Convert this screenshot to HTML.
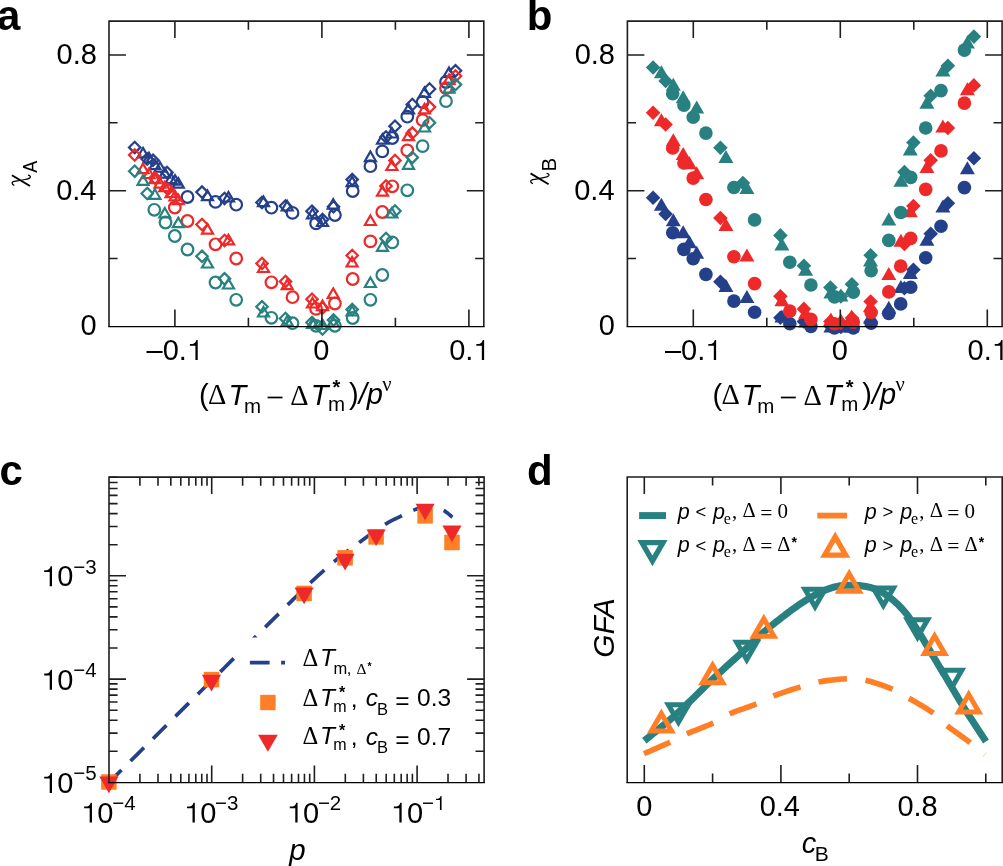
<!DOCTYPE html><html><head><meta charset="utf-8"><style>html,body{margin:0;padding:0;background:#fff;}svg{display:block;will-change:transform;}</style></head><body>
<svg width="1003" height="866" viewBox="0 0 1003 866">
<rect width="1003" height="866" fill="#fff"/>
<path d="M149.00 152.75L154.50 162.28L143.50 162.28Z" fill="none" stroke="#25408a" stroke-width="2.2"/>
<path d="M160.00 162.21L165.50 171.74L154.50 171.74Z" fill="none" stroke="#25408a" stroke-width="2.2"/>
<path d="M175.00 175.11L180.50 184.64L169.50 184.64Z" fill="none" stroke="#25408a" stroke-width="2.2"/>
<path d="M153.0 154.6L158.7 160.3L153.0 166.0L147.3 160.3Z" fill="none" stroke="#25408a" stroke-width="2.2"/>
<path d="M167.0 166.7L172.7 172.4L167.0 178.1L161.3 172.4Z" fill="none" stroke="#25408a" stroke-width="2.2"/>
<path d="M134.7 141.7L140.4 147.4L134.7 153.1L129.0 147.4Z" fill="none" stroke="#25408a" stroke-width="2.2"/>
<path d="M147.2 153.3L152.9 159.0L147.2 164.7L141.5 159.0Z" fill="none" stroke="#25408a" stroke-width="2.2"/>
<path d="M202.0 186.4L207.7 192.1L202.0 197.8L196.3 192.1Z" fill="none" stroke="#25408a" stroke-width="2.2"/>
<path d="M224.5 192.7L230.2 198.4L224.5 204.1L218.8 198.4Z" fill="none" stroke="#25408a" stroke-width="2.2"/>
<path d="M262.0 196.8L267.7 202.5L262.0 208.2L256.3 202.5Z" fill="none" stroke="#25408a" stroke-width="2.2"/>
<path d="M285.5 200.3L291.2 206.0L285.5 211.7L279.8 206.0Z" fill="none" stroke="#25408a" stroke-width="2.2"/>
<path d="M312.0 205.5L317.7 211.2L312.0 216.9L306.3 211.2Z" fill="none" stroke="#25408a" stroke-width="2.2"/>
<path d="M322.5 213.8L328.2 219.5L322.5 225.2L316.8 219.5Z" fill="none" stroke="#25408a" stroke-width="2.2"/>
<path d="M333.5 201.1L339.2 206.8L333.5 212.5L327.8 206.8Z" fill="none" stroke="#25408a" stroke-width="2.2"/>
<path d="M352.2 173.9L357.9 179.6L352.2 185.3L346.5 179.6Z" fill="none" stroke="#25408a" stroke-width="2.2"/>
<path d="M386.0 131.3L391.7 137.0L386.0 142.7L380.3 137.0Z" fill="none" stroke="#25408a" stroke-width="2.2"/>
<path d="M395.0 120.5L400.7 126.2L395.0 131.9L389.3 126.2Z" fill="none" stroke="#25408a" stroke-width="2.2"/>
<path d="M412.3 98.8L418.0 104.5L412.3 110.2L406.6 104.5Z" fill="none" stroke="#25408a" stroke-width="2.2"/>
<path d="M429.5 83.3L435.2 89.0L429.5 94.7L423.8 89.0Z" fill="none" stroke="#25408a" stroke-width="2.2"/>
<path d="M455.5 65.1L461.2 70.8L455.5 76.5L449.8 70.8Z" fill="none" stroke="#25408a" stroke-width="2.2"/>
<path d="M143.00 147.85L148.50 157.38L137.50 157.38Z" fill="none" stroke="#25408a" stroke-width="2.2"/>
<path d="M154.90 159.65L160.40 169.18L149.40 169.18Z" fill="none" stroke="#25408a" stroke-width="2.2"/>
<path d="M164.80 168.15L170.30 177.68L159.30 177.68Z" fill="none" stroke="#25408a" stroke-width="2.2"/>
<path d="M171.00 173.65L176.50 183.18L165.50 183.18Z" fill="none" stroke="#25408a" stroke-width="2.2"/>
<path d="M178.30 178.15L183.80 187.68L172.80 187.68Z" fill="none" stroke="#25408a" stroke-width="2.2"/>
<path d="M207.50 190.55L213.00 200.08L202.00 200.08Z" fill="none" stroke="#25408a" stroke-width="2.2"/>
<path d="M228.50 191.95L234.00 201.48L223.00 201.48Z" fill="none" stroke="#25408a" stroke-width="2.2"/>
<path d="M263.50 196.55L269.00 206.08L258.00 206.08Z" fill="none" stroke="#25408a" stroke-width="2.2"/>
<path d="M287.20 200.95L292.70 210.48L281.70 210.48Z" fill="none" stroke="#25408a" stroke-width="2.2"/>
<path d="M312.50 208.75L318.00 218.28L307.00 218.28Z" fill="none" stroke="#25408a" stroke-width="2.2"/>
<path d="M322.50 216.45L328.00 225.98L317.00 225.98Z" fill="none" stroke="#25408a" stroke-width="2.2"/>
<path d="M333.20 199.15L338.70 208.68L327.70 208.68Z" fill="none" stroke="#25408a" stroke-width="2.2"/>
<path d="M352.10 176.65L357.60 186.18L346.60 186.18Z" fill="none" stroke="#25408a" stroke-width="2.2"/>
<path d="M370.40 151.55L375.90 161.08L364.90 161.08Z" fill="none" stroke="#25408a" stroke-width="2.2"/>
<path d="M382.50 134.15L388.00 143.68L377.00 143.68Z" fill="none" stroke="#25408a" stroke-width="2.2"/>
<path d="M391.90 127.95L397.40 137.48L386.40 137.48Z" fill="none" stroke="#25408a" stroke-width="2.2"/>
<path d="M408.50 103.85L414.00 113.38L403.00 113.38Z" fill="none" stroke="#25408a" stroke-width="2.2"/>
<path d="M424.50 87.35L430.00 96.88L419.00 96.88Z" fill="none" stroke="#25408a" stroke-width="2.2"/>
<path d="M449.00 67.45L454.50 76.98L443.50 76.98Z" fill="none" stroke="#25408a" stroke-width="2.2"/>
<circle cx="187.5" cy="197.0" r="5.8" fill="none" stroke="#25408a" stroke-width="2.2"/>
<circle cx="215.5" cy="201.9" r="5.8" fill="none" stroke="#25408a" stroke-width="2.2"/>
<circle cx="236.2" cy="204.7" r="5.8" fill="none" stroke="#25408a" stroke-width="2.2"/>
<circle cx="271.4" cy="207.7" r="5.8" fill="none" stroke="#25408a" stroke-width="2.2"/>
<circle cx="292.5" cy="212.9" r="5.8" fill="none" stroke="#25408a" stroke-width="2.2"/>
<circle cx="316.1" cy="223.4" r="5.8" fill="none" stroke="#25408a" stroke-width="2.2"/>
<circle cx="334.9" cy="215.0" r="5.8" fill="none" stroke="#25408a" stroke-width="2.2"/>
<circle cx="352.7" cy="191.0" r="5.8" fill="none" stroke="#25408a" stroke-width="2.2"/>
<circle cx="370.4" cy="166.2" r="5.8" fill="none" stroke="#25408a" stroke-width="2.2"/>
<circle cx="382.3" cy="151.4" r="5.8" fill="none" stroke="#25408a" stroke-width="2.2"/>
<circle cx="392.3" cy="138.0" r="5.8" fill="none" stroke="#25408a" stroke-width="2.2"/>
<circle cx="407.3" cy="116.7" r="5.8" fill="none" stroke="#25408a" stroke-width="2.2"/>
<circle cx="422.6" cy="102.0" r="5.8" fill="none" stroke="#25408a" stroke-width="2.2"/>
<circle cx="446.0" cy="82.0" r="5.8" fill="none" stroke="#25408a" stroke-width="2.2"/>
<path d="M149.00 168.55L154.50 178.08L143.50 178.08Z" fill="none" stroke="#ee2929" stroke-width="2.2"/>
<path d="M160.00 178.01L165.50 187.54L154.50 187.54Z" fill="none" stroke="#ee2929" stroke-width="2.2"/>
<path d="M175.00 190.91L180.50 200.44L169.50 200.44Z" fill="none" stroke="#ee2929" stroke-width="2.2"/>
<path d="M155.0 172.4L160.7 178.1L155.0 183.8L149.3 178.1Z" fill="none" stroke="#ee2929" stroke-width="2.2"/>
<path d="M168.0 183.5L173.7 189.2L168.0 194.9L162.3 189.2Z" fill="none" stroke="#ee2929" stroke-width="2.2"/>
<path d="M134.7 149.3L140.4 155.0L134.7 160.7L129.0 155.0Z" fill="none" stroke="#ee2929" stroke-width="2.2"/>
<path d="M202.0 218.8L207.7 224.5L202.0 230.2L196.3 224.5Z" fill="none" stroke="#ee2929" stroke-width="2.2"/>
<path d="M224.5 234.8L230.2 240.5L224.5 246.2L218.8 240.5Z" fill="none" stroke="#ee2929" stroke-width="2.2"/>
<path d="M262.0 257.8L267.7 263.5L262.0 269.2L256.3 263.5Z" fill="none" stroke="#ee2929" stroke-width="2.2"/>
<path d="M285.5 275.7L291.2 281.4L285.5 287.1L279.8 281.4Z" fill="none" stroke="#ee2929" stroke-width="2.2"/>
<path d="M312.0 293.5L317.7 299.2L312.0 304.9L306.3 299.2Z" fill="none" stroke="#ee2929" stroke-width="2.2"/>
<path d="M322.5 302.3L328.2 308.0L322.5 313.7L316.8 308.0Z" fill="none" stroke="#ee2929" stroke-width="2.2"/>
<path d="M352.2 249.8L357.9 255.5L352.2 261.2L346.5 255.5Z" fill="none" stroke="#ee2929" stroke-width="2.2"/>
<path d="M386.0 180.3L391.7 186.0L386.0 191.7L380.3 186.0Z" fill="none" stroke="#ee2929" stroke-width="2.2"/>
<path d="M395.0 154.7L400.7 160.4L395.0 166.1L389.3 160.4Z" fill="none" stroke="#ee2929" stroke-width="2.2"/>
<path d="M412.3 127.4L418.0 133.1L412.3 138.8L406.6 133.1Z" fill="none" stroke="#ee2929" stroke-width="2.2"/>
<path d="M429.5 101.4L435.2 107.1L429.5 112.8L423.8 107.1Z" fill="none" stroke="#ee2929" stroke-width="2.2"/>
<path d="M455.5 70.3L461.2 76.0L455.5 81.7L449.8 76.0Z" fill="none" stroke="#ee2929" stroke-width="2.2"/>
<path d="M143.00 163.65L148.50 173.18L137.50 173.18Z" fill="none" stroke="#ee2929" stroke-width="2.2"/>
<path d="M154.90 173.65L160.40 183.18L149.40 183.18Z" fill="none" stroke="#ee2929" stroke-width="2.2"/>
<path d="M164.80 181.65L170.30 191.18L159.30 191.18Z" fill="none" stroke="#ee2929" stroke-width="2.2"/>
<path d="M171.00 187.65L176.50 197.18L165.50 197.18Z" fill="none" stroke="#ee2929" stroke-width="2.2"/>
<path d="M178.30 194.65L183.80 204.18L172.80 204.18Z" fill="none" stroke="#ee2929" stroke-width="2.2"/>
<path d="M207.50 224.15L213.00 233.68L202.00 233.68Z" fill="none" stroke="#ee2929" stroke-width="2.2"/>
<path d="M228.50 234.75L234.00 244.28L223.00 244.28Z" fill="none" stroke="#ee2929" stroke-width="2.2"/>
<path d="M263.50 262.45L269.00 271.98L258.00 271.98Z" fill="none" stroke="#ee2929" stroke-width="2.2"/>
<path d="M287.20 279.65L292.70 289.18L281.70 289.18Z" fill="none" stroke="#ee2929" stroke-width="2.2"/>
<path d="M312.50 297.95L318.00 307.48L307.00 307.48Z" fill="none" stroke="#ee2929" stroke-width="2.2"/>
<path d="M322.50 300.55L328.00 310.08L317.00 310.08Z" fill="none" stroke="#ee2929" stroke-width="2.2"/>
<path d="M333.20 288.35L338.70 297.88L327.70 297.88Z" fill="none" stroke="#ee2929" stroke-width="2.2"/>
<path d="M352.10 256.95L357.60 266.48L346.60 266.48Z" fill="none" stroke="#ee2929" stroke-width="2.2"/>
<path d="M370.40 215.45L375.90 224.98L364.90 224.98Z" fill="none" stroke="#ee2929" stroke-width="2.2"/>
<path d="M382.50 186.15L388.00 195.68L377.00 195.68Z" fill="none" stroke="#ee2929" stroke-width="2.2"/>
<path d="M391.90 160.45L397.40 169.98L386.40 169.98Z" fill="none" stroke="#ee2929" stroke-width="2.2"/>
<path d="M408.50 130.65L414.00 140.18L403.00 140.18Z" fill="none" stroke="#ee2929" stroke-width="2.2"/>
<path d="M424.50 103.85L430.00 113.38L419.00 113.38Z" fill="none" stroke="#ee2929" stroke-width="2.2"/>
<path d="M449.00 74.35L454.50 83.88L443.50 83.88Z" fill="none" stroke="#ee2929" stroke-width="2.2"/>
<circle cx="174.8" cy="207.5" r="5.8" fill="none" stroke="#ee2929" stroke-width="2.2"/>
<circle cx="187.5" cy="221.0" r="5.8" fill="none" stroke="#ee2929" stroke-width="2.2"/>
<circle cx="215.5" cy="244.3" r="5.8" fill="none" stroke="#ee2929" stroke-width="2.2"/>
<circle cx="236.2" cy="258.5" r="5.8" fill="none" stroke="#ee2929" stroke-width="2.2"/>
<circle cx="271.4" cy="282.3" r="5.8" fill="none" stroke="#ee2929" stroke-width="2.2"/>
<circle cx="292.5" cy="297.2" r="5.8" fill="none" stroke="#ee2929" stroke-width="2.2"/>
<circle cx="316.1" cy="308.9" r="5.8" fill="none" stroke="#ee2929" stroke-width="2.2"/>
<circle cx="334.9" cy="303.5" r="5.8" fill="none" stroke="#ee2929" stroke-width="2.2"/>
<circle cx="352.7" cy="279.0" r="5.8" fill="none" stroke="#ee2929" stroke-width="2.2"/>
<circle cx="370.4" cy="241.4" r="5.8" fill="none" stroke="#ee2929" stroke-width="2.2"/>
<circle cx="382.3" cy="212.0" r="5.8" fill="none" stroke="#ee2929" stroke-width="2.2"/>
<circle cx="392.3" cy="186.3" r="5.8" fill="none" stroke="#ee2929" stroke-width="2.2"/>
<circle cx="407.3" cy="150.4" r="5.8" fill="none" stroke="#ee2929" stroke-width="2.2"/>
<circle cx="422.6" cy="120.1" r="5.8" fill="none" stroke="#ee2929" stroke-width="2.2"/>
<circle cx="446.0" cy="88.1" r="5.8" fill="none" stroke="#ee2929" stroke-width="2.2"/>
<path d="M134.7 165.5L140.4 171.2L134.7 176.9L129.0 171.2Z" fill="none" stroke="#288080" stroke-width="2.2"/>
<path d="M147.2 187.8L152.9 193.5L147.2 199.2L141.5 193.5Z" fill="none" stroke="#288080" stroke-width="2.2"/>
<path d="M202.0 250.6L207.7 256.3L202.0 262.0L196.3 256.3Z" fill="none" stroke="#288080" stroke-width="2.2"/>
<path d="M224.5 273.1L230.2 278.8L224.5 284.5L218.8 278.8Z" fill="none" stroke="#288080" stroke-width="2.2"/>
<path d="M262.0 301.1L267.7 306.8L262.0 312.5L256.3 306.8Z" fill="none" stroke="#288080" stroke-width="2.2"/>
<path d="M285.5 312.8L291.2 318.5L285.5 324.2L279.8 318.5Z" fill="none" stroke="#288080" stroke-width="2.2"/>
<path d="M312.0 316.8L317.7 322.5L312.0 328.2L306.3 322.5Z" fill="none" stroke="#288080" stroke-width="2.2"/>
<path d="M322.5 323.3L328.2 329.0L322.5 334.7L316.8 329.0Z" fill="none" stroke="#288080" stroke-width="2.2"/>
<path d="M333.5 314.4L339.2 320.1L333.5 325.8L327.8 320.1Z" fill="none" stroke="#288080" stroke-width="2.2"/>
<path d="M352.2 303.9L357.9 309.6L352.2 315.3L346.5 309.6Z" fill="none" stroke="#288080" stroke-width="2.2"/>
<path d="M386.0 232.7L391.7 238.4L386.0 244.1L380.3 238.4Z" fill="none" stroke="#288080" stroke-width="2.2"/>
<path d="M395.0 205.3L400.7 211.0L395.0 216.7L389.3 211.0Z" fill="none" stroke="#288080" stroke-width="2.2"/>
<path d="M412.3 151.7L418.0 157.4L412.3 163.1L406.6 157.4Z" fill="none" stroke="#288080" stroke-width="2.2"/>
<path d="M429.5 117.0L435.2 122.7L429.5 128.4L423.8 122.7Z" fill="none" stroke="#288080" stroke-width="2.2"/>
<path d="M455.5 78.9L461.2 84.6L455.5 90.3L449.8 84.6Z" fill="none" stroke="#288080" stroke-width="2.2"/>
<path d="M143.00 175.25L148.50 184.78L137.50 184.78Z" fill="none" stroke="#288080" stroke-width="2.2"/>
<path d="M154.90 189.25L160.40 198.78L149.40 198.78Z" fill="none" stroke="#288080" stroke-width="2.2"/>
<path d="M164.80 207.95L170.30 217.48L159.30 217.48Z" fill="none" stroke="#288080" stroke-width="2.2"/>
<path d="M178.30 217.65L183.80 227.18L172.80 227.18Z" fill="none" stroke="#288080" stroke-width="2.2"/>
<path d="M207.50 257.95L213.00 267.48L202.00 267.48Z" fill="none" stroke="#288080" stroke-width="2.2"/>
<path d="M228.50 278.95L234.00 288.48L223.00 288.48Z" fill="none" stroke="#288080" stroke-width="2.2"/>
<path d="M263.50 306.95L269.00 316.48L258.00 316.48Z" fill="none" stroke="#288080" stroke-width="2.2"/>
<path d="M287.20 315.95L292.70 325.48L281.70 325.48Z" fill="none" stroke="#288080" stroke-width="2.2"/>
<path d="M312.50 318.45L318.00 327.98L307.00 327.98Z" fill="none" stroke="#288080" stroke-width="2.2"/>
<path d="M322.50 319.45L328.00 328.98L317.00 328.98Z" fill="none" stroke="#288080" stroke-width="2.2"/>
<path d="M333.20 316.95L338.70 326.48L327.70 326.48Z" fill="none" stroke="#288080" stroke-width="2.2"/>
<path d="M352.10 305.95L357.60 315.48L346.60 315.48Z" fill="none" stroke="#288080" stroke-width="2.2"/>
<path d="M370.40 277.45L375.90 286.98L364.90 286.98Z" fill="none" stroke="#288080" stroke-width="2.2"/>
<path d="M382.50 241.25L388.00 250.78L377.00 250.78Z" fill="none" stroke="#288080" stroke-width="2.2"/>
<path d="M391.90 207.95L397.40 217.48L386.40 217.48Z" fill="none" stroke="#288080" stroke-width="2.2"/>
<path d="M408.50 159.25L414.00 168.78L403.00 168.78Z" fill="none" stroke="#288080" stroke-width="2.2"/>
<path d="M424.50 121.95L430.00 131.48L419.00 131.48Z" fill="none" stroke="#288080" stroke-width="2.2"/>
<path d="M449.00 83.05L454.50 92.58L443.50 92.58Z" fill="none" stroke="#288080" stroke-width="2.2"/>
<circle cx="154.3" cy="209.8" r="5.8" fill="none" stroke="#288080" stroke-width="2.2"/>
<circle cx="165.5" cy="222.5" r="5.8" fill="none" stroke="#288080" stroke-width="2.2"/>
<circle cx="174.8" cy="236.0" r="5.8" fill="none" stroke="#288080" stroke-width="2.2"/>
<circle cx="187.5" cy="249.5" r="5.8" fill="none" stroke="#288080" stroke-width="2.2"/>
<circle cx="215.5" cy="282.5" r="5.8" fill="none" stroke="#288080" stroke-width="2.2"/>
<circle cx="236.2" cy="299.8" r="5.8" fill="none" stroke="#288080" stroke-width="2.2"/>
<circle cx="271.4" cy="317.8" r="5.8" fill="none" stroke="#288080" stroke-width="2.2"/>
<circle cx="292.5" cy="323.2" r="5.8" fill="none" stroke="#288080" stroke-width="2.2"/>
<circle cx="316.1" cy="325.8" r="5.8" fill="none" stroke="#288080" stroke-width="2.2"/>
<circle cx="334.9" cy="325.8" r="5.8" fill="none" stroke="#288080" stroke-width="2.2"/>
<circle cx="352.7" cy="318.0" r="5.8" fill="none" stroke="#288080" stroke-width="2.2"/>
<circle cx="370.4" cy="299.8" r="5.8" fill="none" stroke="#288080" stroke-width="2.2"/>
<circle cx="382.3" cy="275.0" r="5.8" fill="none" stroke="#288080" stroke-width="2.2"/>
<circle cx="392.3" cy="242.4" r="5.8" fill="none" stroke="#288080" stroke-width="2.2"/>
<circle cx="407.3" cy="190.3" r="5.8" fill="none" stroke="#288080" stroke-width="2.2"/>
<circle cx="422.6" cy="146.1" r="5.8" fill="none" stroke="#288080" stroke-width="2.2"/>
<circle cx="446.0" cy="101.1" r="5.8" fill="none" stroke="#288080" stroke-width="2.2"/>
<path d="M109.0 326.5V21.1H483.8V326.5" fill="none" stroke="#1e1e1e" stroke-width="1.6" stroke-linejoin="miter"/>
<path d="M108.20 326.5H484.60" stroke="#000" stroke-width="1.25"/>
<path d="M174.90 326.4V309.40M174.90 21.1V38.10" stroke="#1e1e1e" stroke-width="1.6"/>
<path d="M321.90 326.4V309.40M321.90 21.1V38.10" stroke="#1e1e1e" stroke-width="1.6"/>
<path d="M468.90 326.4V309.40M468.90 21.1V38.10" stroke="#1e1e1e" stroke-width="1.6"/>
<path d="M248.40 326.4V317.80M248.40 21.1V29.70" stroke="#1e1e1e" stroke-width="1.6"/>
<path d="M395.40 326.4V317.80M395.40 21.1V29.70" stroke="#1e1e1e" stroke-width="1.6"/>
<path d="M109.0 190.68H126.00M483.8 190.68H466.80" stroke="#1e1e1e" stroke-width="1.6"/>
<path d="M109.0 54.96H126.00M483.8 54.96H466.80" stroke="#1e1e1e" stroke-width="1.6"/>
<path d="M109.0 258.54H117.60M483.8 258.54H475.20" stroke="#1e1e1e" stroke-width="1.6"/>
<path d="M109.0 122.82H117.60M483.8 122.82H475.20" stroke="#1e1e1e" stroke-width="1.6"/>
<path d="M653.1 190.4L660.4 197.7L653.1 205.0L645.8 197.7Z" fill="#25408a"/>
<path d="M665.6 206.7L672.9 214.0L665.6 221.3L658.3 214.0Z" fill="#25408a"/>
<path d="M720.4 274.4L727.7 281.7L720.4 289.0L713.1 281.7Z" fill="#25408a"/>
<path d="M780.4 310.5L787.7 317.8L780.4 325.1L773.1 317.8Z" fill="#25408a"/>
<path d="M803.9 314.2L811.2 321.5L803.9 328.8L796.6 321.5Z" fill="#25408a"/>
<path d="M830.4 318.7L837.7 326.0L830.4 333.3L823.1 326.0Z" fill="#25408a"/>
<path d="M840.9 319.7L848.2 327.0L840.9 334.3L833.6 327.0Z" fill="#25408a"/>
<path d="M851.9 319.7L859.2 327.0L851.9 334.3L844.6 327.0Z" fill="#25408a"/>
<path d="M870.6 314.7L877.9 322.0L870.6 329.3L863.3 322.0Z" fill="#25408a"/>
<path d="M904.4 280.9L911.7 288.2L904.4 295.5L897.1 288.2Z" fill="#25408a"/>
<path d="M913.4 262.5L920.7 269.8L913.4 277.1L906.1 269.8Z" fill="#25408a"/>
<path d="M930.7 226.4L938.0 233.7L930.7 241.0L923.4 233.7Z" fill="#25408a"/>
<path d="M947.9 196.0L955.2 203.3L947.9 210.6L940.6 203.3Z" fill="#25408a"/>
<path d="M973.9 150.9L981.2 158.2L973.9 165.5L966.6 158.2Z" fill="#25408a"/>
<path d="M661.40 197.84L668.90 210.83L653.90 210.83Z" fill="#25408a"/>
<path d="M673.30 213.34L680.80 226.33L665.80 226.33Z" fill="#25408a"/>
<path d="M683.20 225.34L690.70 238.33L675.70 238.33Z" fill="#25408a"/>
<path d="M689.40 235.34L696.90 248.33L681.90 248.33Z" fill="#25408a"/>
<path d="M696.70 245.84L704.20 258.83L689.20 258.83Z" fill="#25408a"/>
<path d="M725.90 278.94L733.40 291.93L718.40 291.93Z" fill="#25408a"/>
<path d="M746.90 289.94L754.40 302.93L739.40 302.93Z" fill="#25408a"/>
<path d="M781.90 309.54L789.40 322.53L774.40 322.53Z" fill="#25408a"/>
<path d="M805.60 314.54L813.10 327.53L798.10 327.53Z" fill="#25408a"/>
<path d="M830.90 319.54L838.40 332.53L823.40 332.53Z" fill="#25408a"/>
<path d="M840.90 319.54L848.40 332.53L833.40 332.53Z" fill="#25408a"/>
<path d="M851.60 319.54L859.10 332.53L844.10 332.53Z" fill="#25408a"/>
<path d="M870.50 310.54L878.00 323.53L863.00 323.53Z" fill="#25408a"/>
<path d="M888.80 300.74L896.30 313.73L881.30 313.73Z" fill="#25408a"/>
<path d="M900.90 279.94L908.40 292.93L893.40 292.93Z" fill="#25408a"/>
<path d="M910.30 266.04L917.80 279.03L902.80 279.03Z" fill="#25408a"/>
<path d="M926.90 232.74L934.40 245.73L919.40 245.73Z" fill="#25408a"/>
<path d="M942.90 199.54L950.40 212.53L935.40 212.53Z" fill="#25408a"/>
<path d="M967.40 161.14L974.90 174.13L959.90 174.13Z" fill="#25408a"/>
<circle cx="672.7" cy="232.8" r="6.8" fill="#25408a"/>
<circle cx="683.9" cy="249.4" r="6.8" fill="#25408a"/>
<circle cx="693.2" cy="258.7" r="6.8" fill="#25408a"/>
<circle cx="705.9" cy="274.4" r="6.8" fill="#25408a"/>
<circle cx="733.9" cy="301.1" r="6.8" fill="#25408a"/>
<circle cx="754.6" cy="312.2" r="6.8" fill="#25408a"/>
<circle cx="789.8" cy="323.7" r="6.8" fill="#25408a"/>
<circle cx="810.9" cy="326.5" r="6.8" fill="#25408a"/>
<circle cx="834.5" cy="328.0" r="6.8" fill="#25408a"/>
<circle cx="853.3" cy="328.0" r="6.8" fill="#25408a"/>
<circle cx="871.1" cy="323.2" r="6.8" fill="#25408a"/>
<circle cx="888.8" cy="313.4" r="6.8" fill="#25408a"/>
<circle cx="900.7" cy="303.9" r="6.8" fill="#25408a"/>
<circle cx="910.7" cy="287.3" r="6.8" fill="#25408a"/>
<circle cx="925.7" cy="257.8" r="6.8" fill="#25408a"/>
<circle cx="941.0" cy="226.3" r="6.8" fill="#25408a"/>
<circle cx="964.4" cy="187.6" r="6.8" fill="#25408a"/>
<path d="M653.1 105.5L660.4 112.8L653.1 120.1L645.8 112.8Z" fill="#ee2929"/>
<path d="M665.6 117.2L672.9 124.5L665.6 131.8L658.3 124.5Z" fill="#ee2929"/>
<path d="M720.4 210.7L727.7 218.0L720.4 225.3L713.1 218.0Z" fill="#ee2929"/>
<path d="M780.4 289.0L787.7 296.3L780.4 303.6L773.1 296.3Z" fill="#ee2929"/>
<path d="M803.9 301.6L811.2 308.9L803.9 316.2L796.6 308.9Z" fill="#ee2929"/>
<path d="M830.4 314.2L837.7 321.5L830.4 328.8L823.1 321.5Z" fill="#ee2929"/>
<path d="M840.9 315.7L848.2 323.0L840.9 330.3L833.6 323.0Z" fill="#ee2929"/>
<path d="M851.9 310.7L859.2 318.0L851.9 325.3L844.6 318.0Z" fill="#ee2929"/>
<path d="M870.6 294.2L877.9 301.5L870.6 308.8L863.3 301.5Z" fill="#ee2929"/>
<path d="M904.4 236.6L911.7 243.9L904.4 251.2L897.1 243.9Z" fill="#ee2929"/>
<path d="M913.4 198.7L920.7 206.0L913.4 213.3L906.1 206.0Z" fill="#ee2929"/>
<path d="M930.7 152.9L938.0 160.2L930.7 167.5L923.4 160.2Z" fill="#ee2929"/>
<path d="M947.9 120.7L955.2 128.0L947.9 135.3L940.6 128.0Z" fill="#ee2929"/>
<path d="M973.9 78.1L981.2 85.4L973.9 92.7L966.6 85.4Z" fill="#ee2929"/>
<path d="M661.40 113.34L668.90 126.33L653.90 126.33Z" fill="#ee2929"/>
<path d="M673.30 133.14L680.80 146.13L665.80 146.13Z" fill="#ee2929"/>
<path d="M683.20 147.04L690.70 160.03L675.70 160.03Z" fill="#ee2929"/>
<path d="M689.40 156.34L696.90 169.33L681.90 169.33Z" fill="#ee2929"/>
<path d="M696.70 166.34L704.20 179.33L689.20 179.33Z" fill="#ee2929"/>
<path d="M725.90 217.94L733.40 230.93L718.40 230.93Z" fill="#ee2929"/>
<path d="M746.90 248.44L754.40 261.43L739.40 261.43Z" fill="#ee2929"/>
<path d="M781.90 293.24L789.40 306.23L774.40 306.23Z" fill="#ee2929"/>
<path d="M805.60 305.84L813.10 318.83L798.10 318.83Z" fill="#ee2929"/>
<path d="M830.90 312.54L838.40 325.53L823.40 325.53Z" fill="#ee2929"/>
<path d="M840.90 313.54L848.40 326.53L833.40 326.53Z" fill="#ee2929"/>
<path d="M851.60 309.54L859.10 322.53L844.10 322.53Z" fill="#ee2929"/>
<path d="M870.50 299.04L878.00 312.03L863.00 312.03Z" fill="#ee2929"/>
<path d="M888.80 266.94L896.30 279.93L881.30 279.93Z" fill="#ee2929"/>
<path d="M900.90 233.64L908.40 246.63L893.40 246.63Z" fill="#ee2929"/>
<path d="M910.30 204.14L917.80 217.13L902.80 217.13Z" fill="#ee2929"/>
<path d="M926.90 160.04L934.40 173.03L919.40 173.03Z" fill="#ee2929"/>
<path d="M942.90 119.54L950.40 132.53L935.40 132.53Z" fill="#ee2929"/>
<path d="M967.40 82.14L974.90 95.13L959.90 95.13Z" fill="#ee2929"/>
<circle cx="672.7" cy="148.0" r="6.8" fill="#ee2929"/>
<circle cx="683.9" cy="163.0" r="6.8" fill="#ee2929"/>
<circle cx="693.2" cy="178.1" r="6.8" fill="#ee2929"/>
<circle cx="705.9" cy="199.5" r="6.8" fill="#ee2929"/>
<circle cx="733.9" cy="256.8" r="6.8" fill="#ee2929"/>
<circle cx="754.6" cy="283.6" r="6.8" fill="#ee2929"/>
<circle cx="789.8" cy="311.1" r="6.8" fill="#ee2929"/>
<circle cx="810.9" cy="319.4" r="6.8" fill="#ee2929"/>
<circle cx="834.5" cy="323.7" r="6.8" fill="#ee2929"/>
<circle cx="853.3" cy="322.1" r="6.8" fill="#ee2929"/>
<circle cx="871.1" cy="312.5" r="6.8" fill="#ee2929"/>
<circle cx="888.8" cy="291.9" r="6.8" fill="#ee2929"/>
<circle cx="900.7" cy="266.1" r="6.8" fill="#ee2929"/>
<circle cx="910.7" cy="238.4" r="6.8" fill="#ee2929"/>
<circle cx="925.7" cy="189.4" r="6.8" fill="#ee2929"/>
<circle cx="941.0" cy="150.9" r="6.8" fill="#ee2929"/>
<circle cx="964.4" cy="103.1" r="6.8" fill="#ee2929"/>
<path d="M653.1 60.2L660.4 67.5L653.1 74.8L645.8 67.5Z" fill="#288080"/>
<path d="M665.6 73.6L672.9 80.9L665.6 88.2L658.3 80.9Z" fill="#288080"/>
<path d="M720.4 140.5L727.7 147.8L720.4 155.1L713.1 147.8Z" fill="#288080"/>
<path d="M742.9 175.7L750.2 183.0L742.9 190.3L735.6 183.0Z" fill="#288080"/>
<path d="M780.4 228.1L787.7 235.4L780.4 242.7L773.1 235.4Z" fill="#288080"/>
<path d="M803.9 258.5L811.2 265.8L803.9 273.1L796.6 265.8Z" fill="#288080"/>
<path d="M830.4 280.2L837.7 287.5L830.4 294.8L823.1 287.5Z" fill="#288080"/>
<path d="M840.9 289.2L848.2 296.5L840.9 303.8L833.6 296.5Z" fill="#288080"/>
<path d="M851.9 277.0L859.2 284.3L851.9 291.6L844.6 284.3Z" fill="#288080"/>
<path d="M870.6 247.9L877.9 255.2L870.6 262.5L863.3 255.2Z" fill="#288080"/>
<path d="M904.4 164.7L911.7 172.0L904.4 179.3L897.1 172.0Z" fill="#288080"/>
<path d="M913.4 135.3L920.7 142.6L913.4 149.9L906.1 142.6Z" fill="#288080"/>
<path d="M930.7 88.5L938.0 95.8L930.7 103.1L923.4 95.8Z" fill="#288080"/>
<path d="M947.9 58.4L955.2 65.7L947.9 73.0L940.6 65.7Z" fill="#288080"/>
<path d="M973.9 29.3L981.2 36.6L973.9 43.9L966.6 36.6Z" fill="#288080"/>
<path d="M661.40 65.34L668.90 78.33L653.90 78.33Z" fill="#288080"/>
<path d="M673.30 77.84L680.80 90.83L665.80 90.83Z" fill="#288080"/>
<path d="M683.20 90.34L690.70 103.33L675.70 103.33Z" fill="#288080"/>
<path d="M696.70 100.54L704.20 113.53L689.20 113.53Z" fill="#288080"/>
<path d="M725.90 149.94L733.40 162.93L718.40 162.93Z" fill="#288080"/>
<path d="M746.90 181.04L754.40 194.03L739.40 194.03Z" fill="#288080"/>
<path d="M781.90 237.54L789.40 250.53L774.40 250.53Z" fill="#288080"/>
<path d="M805.60 262.64L813.10 275.63L798.10 275.63Z" fill="#288080"/>
<path d="M830.90 285.54L838.40 298.53L823.40 298.53Z" fill="#288080"/>
<path d="M840.90 288.54L848.40 301.53L833.40 301.53Z" fill="#288080"/>
<path d="M851.60 281.74L859.10 294.73L844.10 294.73Z" fill="#288080"/>
<path d="M870.50 253.54L878.00 266.53L863.00 266.53Z" fill="#288080"/>
<path d="M888.80 212.44L896.30 225.43L881.30 225.43Z" fill="#288080"/>
<path d="M900.90 173.64L908.40 186.63L893.40 186.63Z" fill="#288080"/>
<path d="M910.30 142.44L917.80 155.43L902.80 155.43Z" fill="#288080"/>
<path d="M926.90 95.64L934.40 108.63L919.40 108.63Z" fill="#288080"/>
<path d="M942.90 63.44L950.40 76.43L935.40 76.43Z" fill="#288080"/>
<path d="M967.40 35.44L974.90 48.43L959.90 48.43Z" fill="#288080"/>
<circle cx="672.7" cy="93.8" r="6.8" fill="#288080"/>
<circle cx="683.9" cy="105.1" r="6.8" fill="#288080"/>
<circle cx="693.2" cy="117.2" r="6.8" fill="#288080"/>
<circle cx="705.9" cy="133.1" r="6.8" fill="#288080"/>
<circle cx="733.9" cy="187.5" r="6.8" fill="#288080"/>
<circle cx="754.6" cy="219.9" r="6.8" fill="#288080"/>
<circle cx="789.8" cy="262.3" r="6.8" fill="#288080"/>
<circle cx="810.9" cy="285.0" r="6.8" fill="#288080"/>
<circle cx="834.5" cy="296.9" r="6.8" fill="#288080"/>
<circle cx="853.3" cy="292.3" r="6.8" fill="#288080"/>
<circle cx="871.1" cy="270.7" r="6.8" fill="#288080"/>
<circle cx="888.8" cy="240.4" r="6.8" fill="#288080"/>
<circle cx="900.7" cy="212.5" r="6.8" fill="#288080"/>
<circle cx="910.7" cy="177.4" r="6.8" fill="#288080"/>
<circle cx="925.7" cy="128.0" r="6.8" fill="#288080"/>
<circle cx="941.0" cy="90.6" r="6.8" fill="#288080"/>
<circle cx="964.4" cy="50.1" r="6.8" fill="#288080"/>
<path d="M627.4 326.5V21.1H1002.1V326.5" fill="none" stroke="#1e1e1e" stroke-width="1.6" stroke-linejoin="miter"/>
<path d="M626.60 326.5H1002.90" stroke="#000" stroke-width="1.25"/>
<path d="M693.30 326.4V309.40M693.30 21.1V38.10" stroke="#1e1e1e" stroke-width="1.6"/>
<path d="M840.30 326.4V309.40M840.30 21.1V38.10" stroke="#1e1e1e" stroke-width="1.6"/>
<path d="M987.30 326.4V309.40M987.30 21.1V38.10" stroke="#1e1e1e" stroke-width="1.6"/>
<path d="M766.80 326.4V317.80M766.80 21.1V29.70" stroke="#1e1e1e" stroke-width="1.6"/>
<path d="M913.80 326.4V317.80M913.80 21.1V29.70" stroke="#1e1e1e" stroke-width="1.6"/>
<path d="M627.4 190.68H644.40M1002.1 190.68H985.10" stroke="#1e1e1e" stroke-width="1.6"/>
<path d="M627.4 54.96H644.40M1002.1 54.96H985.10" stroke="#1e1e1e" stroke-width="1.6"/>
<path d="M627.4 258.54H636.00M1002.1 258.54H993.50" stroke="#1e1e1e" stroke-width="1.6"/>
<path d="M627.4 122.82H636.00M1002.1 122.82H993.50" stroke="#1e1e1e" stroke-width="1.6"/>
<text x="56.55" y="63.96" font-family="Liberation Sans" font-size="29" fill="#000">0.8</text>
<text x="56.14" y="199.68" font-family="Liberation Sans" font-size="29" fill="#000">0.4</text>
<text x="80.60" y="335.40" font-family="Liberation Sans" font-size="29" fill="#000">0</text>
<text x="574.65" y="63.96" font-family="Liberation Sans" font-size="29" fill="#000">0.8</text>
<text x="574.24" y="199.68" font-family="Liberation Sans" font-size="29" fill="#000">0.4</text>
<text x="598.70" y="335.40" font-family="Liberation Sans" font-size="29" fill="#000">0</text>
<path transform="translate(186.90 360.00) scale(0.01416 -0.01416)" d="M602 0L764 0L764 1409L672 1409C640 1300 560 1160 420 1137L213 1137L213 1010L602 1010Z" fill="#000"/>
<text x="146.58" y="360.00" font-family="Liberation Sans" font-size="29" fill="#000">–0. </text>
<text x="313.34" y="360.00" font-family="Liberation Sans" font-size="29" fill="#000">0</text>
<path transform="translate(473.32 360.00) scale(0.01416 -0.01416)" d="M602 0L764 0L764 1409L672 1409C640 1300 560 1160 420 1137L213 1137L213 1010L602 1010Z" fill="#000"/>
<text x="449.13" y="360.00" font-family="Liberation Sans" font-size="29" fill="#000">0. </text>
<path transform="translate(705.30 360.00) scale(0.01416 -0.01416)" d="M602 0L764 0L764 1409L672 1409C640 1300 560 1160 420 1137L213 1137L213 1010L602 1010Z" fill="#000"/>
<text x="664.98" y="360.00" font-family="Liberation Sans" font-size="29" fill="#000">–0. </text>
<text x="831.74" y="360.00" font-family="Liberation Sans" font-size="29" fill="#000">0</text>
<path transform="translate(991.72 360.00) scale(0.01416 -0.01416)" d="M602 0L764 0L764 1409L672 1409C640 1300 560 1160 420 1137L213 1137L213 1010L602 1010Z" fill="#000"/>
<text x="967.53" y="360.00" font-family="Liberation Sans" font-size="29" fill="#000">0. </text>
<text x="-3.12" y="30.29" font-family="Liberation Sans" font-size="42" font-weight="bold" fill="#000">a</text>
<text x="526.63" y="30.09" font-family="Liberation Sans" font-size="42" font-weight="bold" fill="#000">b</text>
<g transform="translate(0 0)" fill="none" stroke="#000"><path d="M11.93 175.24L29.99 186.04" stroke-width="1.9"/><path d="M14.3 185.4C12.4 184.7 11.5 183.2 12.6 182.0C13.6 181.0 16.5 181.0 20 180.5L25 179.5C27.5 179.0 29.5 178.6 30.3 177.3C30.8 176.3 29.6 175.3 28.0 175.2" stroke-width="1.25"/></g>
<text x="37.00" y="172.81" font-family="Liberation Sans" font-size="21" fill="#000" transform="rotate(-90 37.00 172.81) translate(37.00 172.81) scale(0.86 1) translate(-37.00 -172.81)">A</text>
<g transform="translate(518.6 -1.8)" fill="none" stroke="#000"><path d="M11.93 175.24L29.99 186.04" stroke-width="1.9"/><path d="M14.3 185.4C12.4 184.7 11.5 183.2 12.6 182.0C13.6 181.0 16.5 181.0 20 180.5L25 179.5C27.5 179.0 29.5 178.6 30.3 177.3C30.8 176.3 29.6 175.3 28.0 175.2" stroke-width="1.25"/></g>
<text x="555.80" y="171.59" font-family="Liberation Sans" font-size="20.5" fill="#000" transform="rotate(-90 555.80 171.59)">B</text>
<text x="199.10" y="404.61" font-family="Liberation Sans" font-size="29" fill="#000">(</text>
<text x="208.11" y="404.40" font-family="Liberation Serif" font-size="28.5" fill="#000">Δ</text>
<text x="228.39" y="404.50" font-family="Liberation Sans" font-size="29" font-style="italic" fill="#000">T</text>
<text x="243.94" y="412.50" font-family="Liberation Sans" font-size="20.5" fill="#000">m</text>
<rect x="267.6" y="396.65" width="14.9" height="1.7" fill="#000"/>
<text x="290.21" y="404.50" font-family="Liberation Serif" font-size="28.5" fill="#000">Δ</text>
<text x="310.69" y="404.60" font-family="Liberation Sans" font-size="29" font-style="italic" fill="#000">T</text>
<text x="332.44" y="394.06" font-family="Liberation Sans" font-size="20" font-weight="bold" fill="#000">*</text>
<text x="328.04" y="410.50" font-family="Liberation Sans" font-size="20.5" fill="#000">m</text>
<text x="348.93" y="403.91" font-family="Liberation Sans" font-size="29" fill="#000">)</text>
<text x="358.74" y="404.22" font-family="Liberation Sans" font-size="29" font-style="italic" fill="#000">/</text>
<text x="366.82" y="404.10" font-family="Liberation Sans" font-size="29" font-style="italic" fill="#000">p</text>
<text x="382.25" y="390.81" font-family="Liberation Serif" font-size="20.5" fill="#000">ν</text>
<text x="712.40" y="404.61" font-family="Liberation Sans" font-size="29" fill="#000">(</text>
<text x="721.41" y="404.40" font-family="Liberation Serif" font-size="28.5" fill="#000">Δ</text>
<text x="741.69" y="404.50" font-family="Liberation Sans" font-size="29" font-style="italic" fill="#000">T</text>
<text x="757.24" y="412.50" font-family="Liberation Sans" font-size="20.5" fill="#000">m</text>
<rect x="780.9" y="396.65" width="14.9" height="1.7" fill="#000"/>
<text x="803.51" y="404.50" font-family="Liberation Serif" font-size="28.5" fill="#000">Δ</text>
<text x="823.99" y="404.60" font-family="Liberation Sans" font-size="29" font-style="italic" fill="#000">T</text>
<text x="845.74" y="394.06" font-family="Liberation Sans" font-size="20" font-weight="bold" fill="#000">*</text>
<text x="841.34" y="410.50" font-family="Liberation Sans" font-size="20.5" fill="#000">m</text>
<text x="862.23" y="403.91" font-family="Liberation Sans" font-size="29" fill="#000">)</text>
<text x="872.04" y="404.22" font-family="Liberation Sans" font-size="29" font-style="italic" fill="#000">/</text>
<text x="880.12" y="404.10" font-family="Liberation Sans" font-size="29" font-style="italic" fill="#000">p</text>
<text x="895.55" y="390.81" font-family="Liberation Serif" font-size="20.5" fill="#000">ν</text>
<path d="M627.2 782.5V477.0H1002.2V782.5" fill="none" stroke="#1e1e1e" stroke-width="1.6" stroke-linejoin="miter"/>
<path d="M626.40 782.5H1003.00" stroke="#000" stroke-width="1.25"/>
<path d="M644.30 782.1V765.10M644.30 477.0V494.00" stroke="#1e1e1e" stroke-width="1.6"/>
<path d="M780.90 782.1V765.10M780.90 477.0V494.00" stroke="#1e1e1e" stroke-width="1.6"/>
<path d="M917.50 782.1V765.10M917.50 477.0V494.00" stroke="#1e1e1e" stroke-width="1.6"/>
<path d="M712.60 782.1V773.50M712.60 477.0V485.60" stroke="#1e1e1e" stroke-width="1.6"/>
<path d="M849.20 782.1V773.50M849.20 477.0V485.60" stroke="#1e1e1e" stroke-width="1.6"/>
<path d="M985.80 782.1V773.50M985.80 477.0V485.60" stroke="#1e1e1e" stroke-width="1.6"/>
<path d="M109.00 782.40 L112.19 779.23 L116.03 775.42 L120.44 771.03 L125.38 766.13 L130.75 760.79 L136.50 755.08 L142.57 749.05 L148.88 742.79 L155.36 736.35 L161.95 729.80 L168.58 723.21 L175.19 716.65 L181.70 710.18 L188.05 703.87 L194.17 697.79 L200.00 692.00 L205.78 686.26 L211.77 680.31 L217.92 674.19 L224.19 667.96 L230.52 661.67 L236.86 655.37 L243.16 649.10 L249.38 642.92 L255.45 636.88 L261.35 631.03 L267.00 625.41 L272.38 620.08 L277.41 615.08 L282.06 610.47 L286.27 606.29 L290.00 602.60 L293.20 599.43 L295.91 596.75 L298.18 594.51 L300.05 592.66 L301.58 591.14 L302.83 589.91 L303.84 588.92 L304.67 588.11 L305.37 587.43 L305.99 586.84 L306.58 586.28 L307.21 585.70 L307.91 585.06 L308.74 584.29 L309.75 583.36 L311.00 582.20 L312.39 580.91 L313.79 579.62 L315.20 578.32 L316.62 577.01 L318.05 575.70 L319.49 574.39 L320.94 573.08 L322.39 571.78 L323.86 570.47 L325.33 569.17 L326.81 567.87 L328.29 566.58 L329.79 565.29 L331.29 564.02 L332.79 562.75 L334.30 561.50 L335.82 560.26 L337.35 559.02 L338.89 557.79 L340.43 556.56 L341.99 555.35 L343.55 554.13 L345.12 552.93 L346.70 551.72 L348.28 550.53 L349.86 549.34 L351.45 548.15 L353.04 546.97 L354.63 545.80 L356.22 544.63 L357.81 543.46 L359.40 542.30 L361.01 541.13 L362.65 539.94 L364.32 538.73 L366.01 537.51 L367.71 536.29 L369.41 535.07 L371.11 533.87 L372.81 532.67 L374.48 531.50 L376.13 530.36 L377.75 529.25 L379.33 528.18 L380.86 527.15 L382.34 526.17 L383.75 525.26 L385.10 524.40 L386.38 523.61 L387.62 522.87 L388.80 522.19 L389.94 521.56 L391.04 520.97 L392.10 520.42 L393.12 519.91 L394.12 519.42 L395.08 518.96 L396.02 518.51 L396.94 518.08 L397.84 517.67 L398.72 517.25 L399.59 516.84 L400.45 516.43 L401.30 516.00 L402.12 515.58 L402.89 515.17 L403.62 514.78 L404.31 514.41 L404.96 514.05 L405.60 513.70 L406.22 513.37 L406.83 513.04 L407.44 512.72 L408.06 512.41 L408.69 512.10 L409.34 511.80 L410.02 511.50 L410.74 511.20 L411.49 510.90 L412.30 510.60 L413.15 510.29 L414.05 509.97 L414.97 509.63 L415.93 509.29 L416.91 508.95 L417.91 508.61 L418.92 508.28 L419.95 507.96 L420.98 507.66 L422.02 507.38 L423.05 507.13 L424.07 506.90 L425.08 506.71 L426.08 506.56 L427.05 506.46 L428.00 506.40 L428.94 506.39 L429.87 506.42 L430.81 506.48 L431.75 506.58 L432.68 506.71 L433.61 506.86 L434.53 507.05 L435.44 507.26 L436.35 507.50 L437.23 507.75 L438.11 508.03 L438.97 508.32 L439.81 508.62 L440.63 508.94 L441.43 509.27 L442.20 509.60 L442.97 509.97 L443.74 510.39 L444.51 510.86 L445.27 511.37 L446.03 511.91 L446.77 512.46 L447.49 513.03 L448.19 513.60 L448.86 514.16 L449.50 514.71 L450.10 515.24 L450.66 515.73 L451.18 516.18 L451.64 516.58 L452.05 516.93 L452.40 517.20" fill="none" stroke="#25408a" stroke-width="3.7" stroke-dasharray="19 12.65" stroke-dashoffset="1.35"/>
<rect x="101.15" y="774.25" width="15.5" height="15.5" fill="#ff7f26"/>
<rect x="203.75" y="671.85" width="15.5" height="15.5" fill="#ff7f26"/>
<rect x="296.35" y="585.65" width="15.5" height="15.5" fill="#ff7f26"/>
<rect x="337.35" y="550.05" width="15.5" height="15.5" fill="#ff7f26"/>
<rect x="368.35" y="529.15" width="15.5" height="15.5" fill="#ff7f26"/>
<rect x="417.35" y="508.15" width="15.5" height="15.5" fill="#ff7f26"/>
<rect x="444.25" y="534.75" width="15.5" height="15.5" fill="#ff7f26"/>
<path d="M108.90 793.19L118.50 776.56L99.30 776.56Z" fill="#ee2929"/>
<path d="M211.50 691.39L221.10 674.76L201.90 674.76Z" fill="#ee2929"/>
<path d="M304.10 604.19L313.70 587.56L294.50 587.56Z" fill="#ee2929"/>
<path d="M345.10 570.39L354.70 553.76L335.50 553.76Z" fill="#ee2929"/>
<path d="M376.10 546.09L385.70 529.46L366.50 529.46Z" fill="#ee2929"/>
<path d="M425.10 520.29L434.70 503.66L415.50 503.66Z" fill="#ee2929"/>
<path d="M452.00 542.19L461.60 525.56L442.40 525.56Z" fill="#ee2929"/>
<rect x="238" y="637.5" width="225" height="125" fill="#fff"/>
<path d="M249.9 662.6H285" stroke="#25408a" stroke-width="3.7" stroke-dasharray="19.7 11.5"/>
<rect x="260.20" y="694.80" width="15.4" height="15.4" fill="#ff7f26"/>
<path d="M267.90 751.87L277.75 734.81L258.05 734.81Z" fill="#ee2929"/>
<text x="302.47" y="665.50" font-family="Liberation Serif" font-size="24.5" fill="#000">Δ</text>
<text x="320.10" y="665.50" font-family="Liberation Sans" font-size="24.5" font-style="italic" fill="#000">T</text>
<text x="333.40" y="674.00" font-family="Liberation Sans" font-size="16.5" fill="#000">m</text>
<text x="346.72" y="674.19" font-family="Liberation Sans" font-size="16.5" fill="#000">,</text>
<text x="356.51" y="674.20" font-family="Liberation Serif" font-size="15.5" fill="#000">Δ</text>
<text x="367.47" y="670.02" font-family="Liberation Sans" font-size="10.5" font-weight="bold" fill="#000">*</text>
<text x="302.47" y="706.00" font-family="Liberation Serif" font-size="24.5" fill="#000">Δ</text>
<text x="320.10" y="706.00" font-family="Liberation Sans" font-size="24.5" font-style="italic" fill="#000">T</text>
<text x="338.95" y="697.81" font-family="Liberation Sans" font-size="16" font-weight="bold" fill="#000">*</text>
<text x="333.14" y="711.60" font-family="Liberation Sans" font-size="16" fill="#000">m</text>
<text x="350.70" y="706.50" font-family="Liberation Sans" font-size="24.5" fill="#000">,</text>
<text x="365.80" y="706.46" font-family="Liberation Sans" font-size="24.5" font-style="italic" fill="#000">c</text>
<text x="377.05" y="714.50" font-family="Liberation Sans" font-size="16.5" fill="#000">B</text>
<text x="395.30" y="709.11" font-family="Liberation Sans" font-size="24.5" fill="#000">=</text>
<text x="417.04" y="706.26" font-family="Liberation Sans" font-size="24.5" fill="#000">0.3</text>
<text x="302.47" y="744.40" font-family="Liberation Serif" font-size="24.5" fill="#000">Δ</text>
<text x="320.10" y="744.40" font-family="Liberation Sans" font-size="24.5" font-style="italic" fill="#000">T</text>
<text x="338.95" y="736.21" font-family="Liberation Sans" font-size="16" font-weight="bold" fill="#000">*</text>
<text x="333.14" y="750.00" font-family="Liberation Sans" font-size="16" fill="#000">m</text>
<text x="350.70" y="744.90" font-family="Liberation Sans" font-size="24.5" fill="#000">,</text>
<text x="365.80" y="744.86" font-family="Liberation Sans" font-size="24.5" font-style="italic" fill="#000">c</text>
<text x="377.05" y="752.90" font-family="Liberation Sans" font-size="16.5" fill="#000">B</text>
<text x="395.30" y="747.51" font-family="Liberation Sans" font-size="24.5" fill="#000">=</text>
<text x="417.04" y="744.66" font-family="Liberation Sans" font-size="24.5" fill="#000">0.7</text>
<path d="M109.0 782.5V477.1H484.1V782.5" fill="none" stroke="#1e1e1e" stroke-width="1.6" stroke-linejoin="miter"/>
<path d="M108.20 782.5H484.90" stroke="#000" stroke-width="1.25"/>
<path d="M139.92 782.4V773.80M139.92 477.1V485.70" stroke="#1e1e1e" stroke-width="1.6"/>
<path d="M158.00 782.4V773.80M158.00 477.1V485.70" stroke="#1e1e1e" stroke-width="1.6"/>
<path d="M170.83 782.4V773.80M170.83 477.1V485.70" stroke="#1e1e1e" stroke-width="1.6"/>
<path d="M180.78 782.4V773.80M180.78 477.1V485.70" stroke="#1e1e1e" stroke-width="1.6"/>
<path d="M188.92 782.4V773.80M188.92 477.1V485.70" stroke="#1e1e1e" stroke-width="1.6"/>
<path d="M195.79 782.4V773.80M195.79 477.1V485.70" stroke="#1e1e1e" stroke-width="1.6"/>
<path d="M201.75 782.4V773.80M201.75 477.1V485.70" stroke="#1e1e1e" stroke-width="1.6"/>
<path d="M207.00 782.4V773.80M207.00 477.1V485.70" stroke="#1e1e1e" stroke-width="1.6"/>
<path d="M211.70 782.4V765.40M211.70 477.1V494.10" stroke="#1e1e1e" stroke-width="1.6"/>
<path d="M242.62 782.4V773.80M242.62 477.1V485.70" stroke="#1e1e1e" stroke-width="1.6"/>
<path d="M260.70 782.4V773.80M260.70 477.1V485.70" stroke="#1e1e1e" stroke-width="1.6"/>
<path d="M273.53 782.4V773.80M273.53 477.1V485.70" stroke="#1e1e1e" stroke-width="1.6"/>
<path d="M283.48 782.4V773.80M283.48 477.1V485.70" stroke="#1e1e1e" stroke-width="1.6"/>
<path d="M291.62 782.4V773.80M291.62 477.1V485.70" stroke="#1e1e1e" stroke-width="1.6"/>
<path d="M298.49 782.4V773.80M298.49 477.1V485.70" stroke="#1e1e1e" stroke-width="1.6"/>
<path d="M304.45 782.4V773.80M304.45 477.1V485.70" stroke="#1e1e1e" stroke-width="1.6"/>
<path d="M309.70 782.4V773.80M309.70 477.1V485.70" stroke="#1e1e1e" stroke-width="1.6"/>
<path d="M314.40 782.4V765.40M314.40 477.1V494.10" stroke="#1e1e1e" stroke-width="1.6"/>
<path d="M345.32 782.4V773.80M345.32 477.1V485.70" stroke="#1e1e1e" stroke-width="1.6"/>
<path d="M363.40 782.4V773.80M363.40 477.1V485.70" stroke="#1e1e1e" stroke-width="1.6"/>
<path d="M376.23 782.4V773.80M376.23 477.1V485.70" stroke="#1e1e1e" stroke-width="1.6"/>
<path d="M386.18 782.4V773.80M386.18 477.1V485.70" stroke="#1e1e1e" stroke-width="1.6"/>
<path d="M394.32 782.4V773.80M394.32 477.1V485.70" stroke="#1e1e1e" stroke-width="1.6"/>
<path d="M401.19 782.4V773.80M401.19 477.1V485.70" stroke="#1e1e1e" stroke-width="1.6"/>
<path d="M407.15 782.4V773.80M407.15 477.1V485.70" stroke="#1e1e1e" stroke-width="1.6"/>
<path d="M412.40 782.4V773.80M412.40 477.1V485.70" stroke="#1e1e1e" stroke-width="1.6"/>
<path d="M417.10 782.4V765.40M417.10 477.1V494.10" stroke="#1e1e1e" stroke-width="1.6"/>
<path d="M448.02 782.4V773.80M448.02 477.1V485.70" stroke="#1e1e1e" stroke-width="1.6"/>
<path d="M466.10 782.4V773.80M466.10 477.1V485.70" stroke="#1e1e1e" stroke-width="1.6"/>
<path d="M478.93 782.4V773.80M478.93 477.1V485.70" stroke="#1e1e1e" stroke-width="1.6"/>
<path d="M109.0 751.30H117.60M484.1 751.30H475.50" stroke="#1e1e1e" stroke-width="1.6"/>
<path d="M109.0 733.11H117.60M484.1 733.11H475.50" stroke="#1e1e1e" stroke-width="1.6"/>
<path d="M109.0 720.21H117.60M484.1 720.21H475.50" stroke="#1e1e1e" stroke-width="1.6"/>
<path d="M109.0 710.20H117.60M484.1 710.20H475.50" stroke="#1e1e1e" stroke-width="1.6"/>
<path d="M109.0 702.02H117.60M484.1 702.02H475.50" stroke="#1e1e1e" stroke-width="1.6"/>
<path d="M109.0 695.10H117.60M484.1 695.10H475.50" stroke="#1e1e1e" stroke-width="1.6"/>
<path d="M109.0 689.11H117.60M484.1 689.11H475.50" stroke="#1e1e1e" stroke-width="1.6"/>
<path d="M109.0 683.83H117.60M484.1 683.83H475.50" stroke="#1e1e1e" stroke-width="1.6"/>
<path d="M109.0 679.10H126.00M484.1 679.10H467.10" stroke="#1e1e1e" stroke-width="1.6"/>
<path d="M109.0 648.00H117.60M484.1 648.00H475.50" stroke="#1e1e1e" stroke-width="1.6"/>
<path d="M109.0 629.81H117.60M484.1 629.81H475.50" stroke="#1e1e1e" stroke-width="1.6"/>
<path d="M109.0 616.91H117.60M484.1 616.91H475.50" stroke="#1e1e1e" stroke-width="1.6"/>
<path d="M109.0 606.90H117.60M484.1 606.90H475.50" stroke="#1e1e1e" stroke-width="1.6"/>
<path d="M109.0 598.72H117.60M484.1 598.72H475.50" stroke="#1e1e1e" stroke-width="1.6"/>
<path d="M109.0 591.80H117.60M484.1 591.80H475.50" stroke="#1e1e1e" stroke-width="1.6"/>
<path d="M109.0 585.81H117.60M484.1 585.81H475.50" stroke="#1e1e1e" stroke-width="1.6"/>
<path d="M109.0 580.53H117.60M484.1 580.53H475.50" stroke="#1e1e1e" stroke-width="1.6"/>
<path d="M109.0 575.80H126.00M484.1 575.80H467.10" stroke="#1e1e1e" stroke-width="1.6"/>
<path d="M109.0 544.70H117.60M484.1 544.70H475.50" stroke="#1e1e1e" stroke-width="1.6"/>
<path d="M109.0 526.51H117.60M484.1 526.51H475.50" stroke="#1e1e1e" stroke-width="1.6"/>
<path d="M109.0 513.61H117.60M484.1 513.61H475.50" stroke="#1e1e1e" stroke-width="1.6"/>
<path d="M109.0 503.60H117.60M484.1 503.60H475.50" stroke="#1e1e1e" stroke-width="1.6"/>
<path d="M109.0 495.42H117.60M484.1 495.42H475.50" stroke="#1e1e1e" stroke-width="1.6"/>
<path d="M109.0 488.50H117.60M484.1 488.50H475.50" stroke="#1e1e1e" stroke-width="1.6"/>
<path d="M109.0 482.51H117.60M484.1 482.51H475.50" stroke="#1e1e1e" stroke-width="1.6"/>
<path d="M109.0 477.23H117.60M484.1 477.23H475.50" stroke="#1e1e1e" stroke-width="1.6"/>
<text x="-0.44" y="484.99" font-family="Liberation Sans" font-size="42" font-weight="bold" fill="#000">c</text>
<path transform="translate(41.18 586.28) scale(0.01416 -0.01416)" d="M602 0L764 0L764 1409L672 1409C640 1300 560 1160 420 1137L213 1137L213 1010L602 1010Z" fill="#000"/>
<text x="41.18" y="586.28" font-family="Liberation Sans" font-size="29" fill="#000"> 0</text>
<text x="73.29" y="573.60" font-family="Liberation Sans" font-size="20.5" fill="#000">−3</text>
<path transform="translate(41.18 689.68) scale(0.01416 -0.01416)" d="M602 0L764 0L764 1409L672 1409C640 1300 560 1160 420 1137L213 1137L213 1010L602 1010Z" fill="#000"/>
<text x="41.18" y="689.68" font-family="Liberation Sans" font-size="29" fill="#000"> 0</text>
<text x="73.29" y="677.20" font-family="Liberation Sans" font-size="20.5" fill="#000">−4</text>
<path transform="translate(41.18 792.88) scale(0.01416 -0.01416)" d="M602 0L764 0L764 1409L672 1409C640 1300 560 1160 420 1137L213 1137L213 1010L602 1010Z" fill="#000"/>
<text x="41.18" y="792.88" font-family="Liberation Sans" font-size="29" fill="#000"> 0</text>
<text x="73.29" y="780.20" font-family="Liberation Sans" font-size="20.5" fill="#000">−5</text>
<path transform="translate(81.15 822.62) scale(0.01416 -0.01416)" d="M602 0L764 0L764 1409L672 1409C640 1300 560 1160 420 1137L213 1137L213 1010L602 1010Z" fill="#000"/>
<text x="81.15" y="822.62" font-family="Liberation Sans" font-size="29" fill="#000"> 0</text>
<text x="112.26" y="810.10" font-family="Liberation Sans" font-size="20.5" fill="#000">−4</text>
<path transform="translate(184.00 822.62) scale(0.01416 -0.01416)" d="M602 0L764 0L764 1409L672 1409C640 1300 560 1160 420 1137L213 1137L213 1010L602 1010Z" fill="#000"/>
<text x="184.00" y="822.62" font-family="Liberation Sans" font-size="29" fill="#000"> 0</text>
<text x="215.11" y="809.90" font-family="Liberation Sans" font-size="20.5" fill="#000">−3</text>
<path transform="translate(286.76 822.62) scale(0.01416 -0.01416)" d="M602 0L764 0L764 1409L672 1409C640 1300 560 1160 420 1137L213 1137L213 1010L602 1010Z" fill="#000"/>
<text x="286.76" y="822.62" font-family="Liberation Sans" font-size="29" fill="#000"> 0</text>
<text x="317.88" y="810.10" font-family="Liberation Sans" font-size="20.5" fill="#000">−2</text>
<path transform="translate(390.83 822.62) scale(0.01416 -0.01416)" d="M602 0L764 0L764 1409L672 1409C640 1300 560 1160 420 1137L213 1137L213 1010L602 1010Z" fill="#000"/>
<text x="390.83" y="822.62" font-family="Liberation Sans" font-size="29" fill="#000"> 0</text>
<path transform="translate(433.91 810.10) scale(0.01001 -0.01001)" d="M602 0L764 0L764 1409L672 1409C640 1300 560 1160 420 1137L213 1137L213 1010L602 1010Z" fill="#000"/>
<text x="421.94" y="810.10" font-family="Liberation Sans" font-size="20.5" fill="#000">− </text>
<text x="289.23" y="860.47" font-family="Liberation Sans" font-size="29.5" font-style="italic" fill="#000">p</text>
<path d="M644.30 740.80 L645.84 739.53 L647.76 737.97 L650.00 736.16 L652.51 734.14 L655.25 731.92 L658.16 729.56 L661.20 727.07 L664.31 724.50 L667.44 721.87 L670.55 719.22 L673.59 716.59 L676.50 714.00 L679.37 711.38 L682.30 708.63 L685.29 705.79 L688.31 702.87 L691.36 699.90 L694.42 696.90 L697.48 693.89 L700.52 690.89 L703.54 687.93 L706.52 685.03 L709.44 682.21 L712.30 679.50 L715.13 676.85 L717.98 674.20 L720.83 671.58 L723.67 668.98 L726.48 666.42 L729.24 663.91 L731.96 661.45 L734.60 659.05 L737.16 656.73 L739.62 654.49 L741.97 652.35 L744.20 650.30 L746.24 648.40 L748.09 646.65 L749.77 645.03 L751.33 643.51 L752.80 642.07 L754.23 640.67 L755.66 639.29 L757.12 637.90 L758.65 636.47 L760.30 634.98 L762.11 633.40 L764.10 631.70 L766.30 629.86 L768.69 627.90 L771.22 625.85 L773.85 623.73 L776.56 621.58 L779.31 619.42 L782.07 617.28 L784.79 615.18 L787.45 613.15 L790.01 611.23 L792.44 609.44 L794.70 607.80 L796.81 606.30 L798.82 604.90 L800.74 603.59 L802.59 602.37 L804.38 601.21 L806.11 600.12 L807.79 599.09 L809.45 598.11 L811.09 597.17 L812.72 596.26 L814.35 595.37 L816.00 594.50 L817.64 593.65 L819.24 592.85 L820.82 592.08 L822.37 591.36 L823.90 590.68 L825.42 590.03 L826.93 589.43 L828.43 588.86 L829.93 588.34 L831.44 587.85 L832.96 587.41 L834.50 587.00 L836.05 586.64 L837.59 586.32 L839.14 586.04 L840.69 585.81 L842.24 585.62 L843.79 585.46 L845.34 585.34 L846.90 585.26 L848.45 585.20 L850.00 585.17 L851.55 585.17 L853.10 585.20 L854.66 585.25 L856.23 585.33 L857.81 585.43 L859.40 585.57 L860.98 585.74 L862.56 585.94 L864.13 586.17 L865.69 586.44 L867.23 586.75 L868.75 587.09 L870.24 587.48 L871.70 587.90 L873.12 588.36 L874.52 588.85 L875.89 589.37 L877.23 589.93 L878.56 590.52 L879.87 591.16 L881.17 591.83 L882.47 592.55 L883.77 593.31 L885.07 594.12 L886.38 594.99 L887.70 595.90 L889.04 596.87 L890.39 597.91 L891.74 598.99 L893.10 600.13 L894.46 601.31 L895.82 602.54 L897.16 603.80 L898.50 605.09 L899.81 606.41 L901.10 607.76 L902.37 609.12 L903.60 610.50 L904.79 611.88 L905.94 613.28 L907.05 614.68 L908.13 616.11 L909.19 617.57 L910.25 619.06 L911.31 620.59 L912.37 622.17 L913.45 623.80 L914.56 625.50 L915.71 627.26 L916.90 629.10 L918.13 631.03 L919.40 633.06 L920.69 635.17 L922.00 637.34 L923.34 639.58 L924.68 641.85 L926.04 644.15 L927.40 646.47 L928.76 648.78 L930.11 651.09 L931.46 653.36 L932.80 655.60 L934.13 657.81 L935.46 660.03 L936.80 662.24 L938.13 664.46 L939.46 666.68 L940.80 668.89 L942.14 671.11 L943.47 673.33 L944.80 675.55 L946.14 677.77 L947.47 679.98 L948.80 682.20 L950.11 684.40 L951.39 686.56 L952.66 688.71 L953.91 690.84 L955.16 692.97 L956.42 695.12 L957.70 697.28 L959.00 699.48 L960.35 701.72 L961.74 704.01 L963.19 706.37 L964.70 708.80 L966.35 711.42 L968.18 714.28 L970.14 717.31 L972.19 720.46 L974.27 723.65 L976.34 726.81 L978.36 729.88 L980.28 732.80 L982.05 735.48 L983.62 737.87 L984.95 739.90 L986.00 741.50" fill="none" stroke="#288080" stroke-width="7"/>
<path d="M644.00 753.70 L644.96 753.28 L646.15 752.76 L647.54 752.15 L649.09 751.47 L650.79 750.73 L652.60 749.94 L654.50 749.11 L656.46 748.25 L658.44 747.38 L660.44 746.50 L662.40 745.63 L664.32 744.78 L666.15 743.96 L667.88 743.18 L669.47 742.46 L670.90 741.80 L672.18 741.20 L673.34 740.63 L674.40 740.10 L675.39 739.60 L676.31 739.11 L677.18 738.65 L678.02 738.19 L678.84 737.74 L679.67 737.30 L680.51 736.85 L681.38 736.39 L682.30 735.92 L683.29 735.43 L684.36 734.92 L685.52 734.38 L686.80 733.80 L688.20 733.19 L689.72 732.55 L691.33 731.89 L693.03 731.21 L694.79 730.52 L696.60 729.81 L698.44 729.09 L700.30 728.36 L702.16 727.64 L704.00 726.91 L705.81 726.19 L707.57 725.48 L709.27 724.78 L710.88 724.10 L712.40 723.44 L713.80 722.80 L715.08 722.18 L716.24 721.59 L717.31 721.00 L718.30 720.43 L719.22 719.87 L720.09 719.32 L720.93 718.77 L721.76 718.23 L722.58 717.69 L723.42 717.15 L724.29 716.61 L725.21 716.07 L726.20 715.51 L727.26 714.95 L728.42 714.38 L729.70 713.80 L731.10 713.20 L732.60 712.59 L734.20 711.97 L735.88 711.34 L737.63 710.71 L739.42 710.07 L741.24 709.43 L743.08 708.79 L744.92 708.15 L746.75 707.51 L748.56 706.88 L750.31 706.26 L752.01 705.65 L753.64 705.05 L755.17 704.47 L756.60 703.90 L757.92 703.35 L759.13 702.82 L760.26 702.30 L761.31 701.79 L762.31 701.29 L763.27 700.80 L764.19 700.32 L765.10 699.84 L766.01 699.37 L766.93 698.89 L767.89 698.41 L768.89 697.93 L769.94 697.43 L771.07 696.93 L772.28 696.42 L773.60 695.90 L775.03 695.36 L776.55 694.80 L778.16 694.22 L779.84 693.63 L781.57 693.03 L783.35 692.42 L785.16 691.82 L786.99 691.21 L788.81 690.61 L790.63 690.03 L792.42 689.45 L794.17 688.89 L795.87 688.35 L797.50 687.84 L799.05 687.35 L800.50 686.90 L801.85 686.47 L803.11 686.07 L804.28 685.69 L805.39 685.32 L806.45 684.98 L807.46 684.65 L808.45 684.33 L809.43 684.03 L810.41 683.74 L811.41 683.46 L812.44 683.19 L813.51 682.92 L814.63 682.66 L815.83 682.41 L817.12 682.15 L818.50 681.90 L819.99 681.65 L821.59 681.39 L823.27 681.14 L825.02 680.89 L826.83 680.64 L828.68 680.40 L830.56 680.18 L832.46 679.96 L834.36 679.75 L836.25 679.56 L838.11 679.38 L839.93 679.22 L841.69 679.08 L843.38 678.96 L844.99 678.87 L846.50 678.80 L847.91 678.75 L849.22 678.70 L850.46 678.66 L851.62 678.64 L852.74 678.63 L853.81 678.64 L854.86 678.66 L855.89 678.71 L856.91 678.78 L857.95 678.87 L859.01 678.99 L860.11 679.14 L861.25 679.33 L862.46 679.55 L863.73 679.80 L865.10 680.10 L866.56 680.44 L868.11 680.84 L869.73 681.28 L871.41 681.76 L873.14 682.28 L874.90 682.83 L876.69 683.40 L878.49 684.00 L880.28 684.61 L882.06 685.23 L883.81 685.86 L885.52 686.49 L887.18 687.11 L888.77 687.72 L890.28 688.32 L891.70 688.90 L893.02 689.46 L894.25 690.00 L895.41 690.54 L896.50 691.07 L897.54 691.59 L898.54 692.12 L899.51 692.65 L900.47 693.19 L901.42 693.74 L902.37 694.30 L903.35 694.89 L904.35 695.49 L905.39 696.12 L906.49 696.78 L907.66 697.47 L908.90 698.20 L910.23 698.97 L911.63 699.78 L913.10 700.63 L914.62 701.51 L916.18 702.42 L917.78 703.35 L919.39 704.30 L921.01 705.26 L922.62 706.22 L924.22 707.19 L925.79 708.16 L927.31 709.12 L928.79 710.07 L930.21 711.01 L931.55 711.92 L932.80 712.80 L933.96 713.66 L935.02 714.49 L936.01 715.31 L936.93 716.12 L937.80 716.91 L938.63 717.70 L939.44 718.49 L940.22 719.27 L941.01 720.07 L941.81 720.86 L942.62 721.67 L943.48 722.49 L944.38 723.33 L945.34 724.20 L946.38 725.08 L947.50 726.00 L948.71 726.95 L950.01 727.94 L951.38 728.96 L952.80 730.01 L954.27 731.08 L955.78 732.17 L957.31 733.26 L958.86 734.36 L960.40 735.46 L961.93 736.55 L963.44 737.62 L964.91 738.68 L966.33 739.71 L967.70 740.71 L968.99 741.68 L970.20 742.60 L971.36 743.51 L972.51 744.42 L973.65 745.33 L974.76 746.25 L975.85 747.15 L976.91 748.03 L977.93 748.90 L978.92 749.74 L979.86 750.54 L980.75 751.31 L981.59 752.04 L982.37 752.71 L983.08 753.33 L983.73 753.89 L984.30 754.38 L984.80 754.80" fill="none" stroke="#ff7f26" stroke-width="5.6" stroke-dasharray="28.6 18.7"/>
<path d="M678.45 722.32L688.60 704.74L668.30 704.74Z" fill="none" stroke="#288080" stroke-width="5.0"/>
<path d="M746.75 659.72L756.90 642.14L736.60 642.14Z" fill="none" stroke="#288080" stroke-width="5.0"/>
<path d="M815.05 606.72L825.20 589.14L804.90 589.14Z" fill="none" stroke="#288080" stroke-width="5.0"/>
<path d="M883.35 605.52L893.50 587.94L873.20 587.94Z" fill="none" stroke="#288080" stroke-width="5.0"/>
<path d="M917.50 637.22L927.65 619.64L907.35 619.64Z" fill="none" stroke="#288080" stroke-width="5.0"/>
<path d="M951.65 687.72L961.80 670.14L941.50 670.14Z" fill="none" stroke="#288080" stroke-width="5.0"/>
<path d="M661.38 713.48L671.52 731.06L651.23 731.06Z" fill="none" stroke="#ff7f26" stroke-width="5.0"/>
<path d="M712.60 665.18L722.75 682.76L702.45 682.76Z" fill="none" stroke="#ff7f26" stroke-width="5.0"/>
<path d="M763.82 618.68L773.97 636.26L753.67 636.26Z" fill="none" stroke="#ff7f26" stroke-width="5.0"/>
<path d="M849.20 573.68L859.35 591.26L839.05 591.26Z" fill="none" stroke="#ff7f26" stroke-width="5.0"/>
<path d="M934.57 635.98L944.72 653.56L924.42 653.56Z" fill="none" stroke="#ff7f26" stroke-width="5.0"/>
<path d="M968.72 694.38L978.87 711.96L958.57 711.96Z" fill="none" stroke="#ff7f26" stroke-width="5.0"/>
<path d="M639.1 515.6H666" stroke="#288080" stroke-width="7"/>
<path d="M652.45 560.88L663.00 542.61L641.90 542.61Z" fill="none" stroke="#288080" stroke-width="5.26"/>
<path d="M817.3 515.6H847.1" stroke="#ff7f26" stroke-width="5.8"/>
<path d="M835.20 536.82L845.75 555.09L824.65 555.09Z" fill="none" stroke="#ff7f26" stroke-width="5.26"/>
<text x="677.64" y="518.77" font-family="Liberation Sans" font-size="21.5" font-style="italic" fill="#000">p</text>
<text x="695.39" y="518.39" font-family="Liberation Sans" font-size="18.5" fill="#000">&lt;</text>
<text x="713.04" y="518.77" font-family="Liberation Sans" font-size="21.5" font-style="italic" fill="#000">p</text>
<text x="723.77" y="523.74" font-family="Liberation Serif" font-size="16" fill="#000">e</text>
<text x="732.12" y="517.70" font-family="Liberation Serif" font-size="20.5" fill="#000">,</text>
<text x="742.62" y="517.40" font-family="Liberation Serif" font-size="20.5" fill="#000">Δ</text>
<text x="760.13" y="519.83" font-family="Liberation Serif" font-size="21.5" fill="#000">=</text>
<text x="677.64" y="552.17" font-family="Liberation Sans" font-size="21.5" font-style="italic" fill="#000">p</text>
<text x="695.39" y="551.79" font-family="Liberation Sans" font-size="18.5" fill="#000">&lt;</text>
<text x="713.04" y="552.17" font-family="Liberation Sans" font-size="21.5" font-style="italic" fill="#000">p</text>
<text x="723.77" y="557.14" font-family="Liberation Serif" font-size="16" fill="#000">e</text>
<text x="732.12" y="551.10" font-family="Liberation Serif" font-size="20.5" fill="#000">,</text>
<text x="742.62" y="550.80" font-family="Liberation Serif" font-size="20.5" fill="#000">Δ</text>
<text x="760.13" y="553.23" font-family="Liberation Serif" font-size="21.5" fill="#000">=</text>
<text x="777.40" y="517.59" font-family="Liberation Serif" font-size="21" fill="#000">0</text>
<text x="777.22" y="550.80" font-family="Liberation Serif" font-size="20.5" fill="#000">Δ</text>
<text x="791.56" y="546.93" font-family="Liberation Sans" font-size="14" font-weight="bold" fill="#000">*</text>
<text x="864.84" y="518.77" font-family="Liberation Sans" font-size="21.5" font-style="italic" fill="#000">p</text>
<text x="882.59" y="518.39" font-family="Liberation Sans" font-size="18.5" fill="#000">&gt;</text>
<text x="900.24" y="518.77" font-family="Liberation Sans" font-size="21.5" font-style="italic" fill="#000">p</text>
<text x="910.98" y="523.74" font-family="Liberation Serif" font-size="16" fill="#000">e</text>
<text x="919.32" y="517.70" font-family="Liberation Serif" font-size="20.5" fill="#000">,</text>
<text x="929.82" y="517.40" font-family="Liberation Serif" font-size="20.5" fill="#000">Δ</text>
<text x="947.33" y="519.83" font-family="Liberation Serif" font-size="21.5" fill="#000">=</text>
<text x="864.84" y="552.17" font-family="Liberation Sans" font-size="21.5" font-style="italic" fill="#000">p</text>
<text x="882.59" y="551.79" font-family="Liberation Sans" font-size="18.5" fill="#000">&gt;</text>
<text x="900.24" y="552.17" font-family="Liberation Sans" font-size="21.5" font-style="italic" fill="#000">p</text>
<text x="910.98" y="557.14" font-family="Liberation Serif" font-size="16" fill="#000">e</text>
<text x="919.32" y="551.10" font-family="Liberation Serif" font-size="20.5" fill="#000">,</text>
<text x="929.82" y="550.80" font-family="Liberation Serif" font-size="20.5" fill="#000">Δ</text>
<text x="947.33" y="553.23" font-family="Liberation Serif" font-size="21.5" fill="#000">=</text>
<text x="964.60" y="517.59" font-family="Liberation Serif" font-size="21" fill="#000">0</text>
<text x="964.42" y="550.80" font-family="Liberation Serif" font-size="20.5" fill="#000">Δ</text>
<text x="978.76" y="546.93" font-family="Liberation Sans" font-size="14" font-weight="bold" fill="#000">*</text>
<text x="526.98" y="484.59" font-family="Liberation Sans" font-size="42" font-weight="bold" fill="#000">d</text>
<text x="636.34" y="816.12" font-family="Liberation Sans" font-size="29" fill="#000">0</text>
<text x="759.64" y="816.12" font-family="Liberation Sans" font-size="29" fill="#000">0.4</text>
<text x="897.41" y="816.12" font-family="Liberation Sans" font-size="29" fill="#000">0.8</text>
<text x="614.05" y="657.78" font-family="Liberation Sans" font-size="30" font-style="italic" fill="#000" transform="rotate(-90 614.05 657.78)">GFA</text>
<text x="801.85" y="853.40" font-family="Liberation Sans" font-size="29" font-style="italic" fill="#000">c</text>
<text x="814.68" y="860.70" font-family="Liberation Sans" font-size="21" fill="#000">B</text>
</svg></body></html>
